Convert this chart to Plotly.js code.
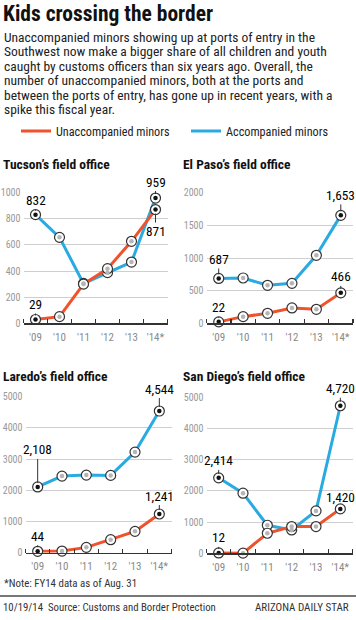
<!DOCTYPE html>
<html>
<head>
<meta charset="utf-8">
<script src="https://cdn.plot.ly/plotly-3.0.1.min.js"></script>
<style>
html,body{margin:0;padding:0;background:#fff;}
#chart{width:356px;height:620px;}
</style>
</head>
<body>
<div id="chart"></div>
<script>
// ---------------- DATA ----------------
const years = [2009, 2010, 2011, 2012, 2013, 2014];
const yearLabels = ["'09", "'10", "'11", "'12", "'13", "'14*"];
const seriesNames = ["Unaccompanied minors", "Accompanied minors"];
const officeNames = ["Tucson’s field office", "El Paso’s field office", "Laredo’s field office", "San Diego’s field office"];

const tucsonUnacc   = [29, 51, 300, 418, 628, 871];
const tucsonAcc     = [832, 658, 305, 388, 469, 959];
const elPasoUnacc   = [22, 102, 153, 235, 214, 466];
const elPasoAcc     = [687, 694, 582, 612, 1041, 1653];
const laredoUnacc   = [44, 53, 171, 417, 684, 1241];
const laredoAcc     = [2108, 2457, 2489, 2479, 3226, 4544];
const sanDiegoUnacc = [12, 5, 641, 855, 855, 1420];
const sanDiegoAcc   = [2414, 1923, 897, 748, 1357, 4720];

const headline = "Kids crossing the border";
const bodyLines = [
  "Unaccompanied minors showing up at ports of entry in the",
  "Southwest now make a bigger share of all children and youth",
  "caught by customs officers than six years ago. Overall, the",
  "number of unaccompanied minors, both at the ports and",
  "between the ports of entry, has gone up in recent years, with a",
  "spike this fiscal year."
];
const noteText = "*Note: FY14 data as of Aug. 31";
const sourceText = "10/19/14  Source: Customs and Border Protection";
const creditText = "ARIZONA DAILY STAR";

// ---------------- LAYOUT / STYLE ----------------
const W = 356, H = 620;
const FONT = "'Roboto Condensed', 'DejaVu Sans Condensed', sans-serif";
const RED = "#f0532b", BLUE = "#29abe2";
const px2x = p => p / W;
const px2y = p => 1 - p / H;

const panels = [
  {unacc: tucsonUnacc, acc: tucsonAcc, xPx: [23.5, 167.5], yPx: [323.3, 192.7], yMax: 1000, dtick: 200,
   titlePx: [1, 164], off: {u0: -15, u5: 22, a0: -14, a5: -16}},
  {unacc: elPasoUnacc, acc: elPasoAcc, xPx: [206.5, 353], yPx: [323.3, 192.7], yMax: 2000, dtick: 500,
   titlePx: [181, 164], off: {u0: -14, u5: -16, a0: -19, a5: -20}},
  {unacc: laredoUnacc, acc: laredoAcc, xPx: [25.5, 171.5], yPx: [552.7, 396.8], yMax: 5000, dtick: 1000,
   titlePx: [1, 376], off: {u0: -15, u5: -18, a0: -37, a5: -22}},
  {unacc: sanDiegoUnacc, acc: sanDiegoAcc, xPx: [206.5, 352.5], yPx: [553.3, 397.0], yMax: 5000, dtick: 1000,
   titlePx: [181, 376], off: {u0: -15, u5: -11, a0: -17, a5: -17}}
];

const traces = [];
const layout = {
  width: W, height: H,
  margin: {l: 0, r: 0, t: 0, b: 0},
  paper_bgcolor: "#fff", plot_bgcolor: "rgba(0,0,0,0)",
  font: {family: FONT, color: "#222"},
  showlegend: true,
  legend: {orientation: "h", x: px2x(61.5), xanchor: "left", y: px2y(131), yanchor: "middle",
           font: {size: 12.2, family: FONT, color: "#222"}, entrywidth: 125, bgcolor: "rgba(0,0,0,0)",
           traceorder: "normal"},
  title: {text: "<b>" + headline + "</b>", x: px2x(3), xanchor: "left", y: px2y(13), yanchor: "middle",
          xref: "paper", yref: "paper", font: {size: 21.5, family: FONT, color: "#111"}},
  annotations: [],
  shapes: []
};

// legend-only traces
[[seriesNames[0], RED], [seriesNames[1], BLUE]].forEach(([n, c]) => {
  traces.push({x: [null], y: [null], type: "scatter", mode: "lines", name: n,
               line: {color: c, width: 3}, xaxis: "x", yaxis: "y", showlegend: true, hoverinfo: "skip"});
});

const fmt = v => v.toLocaleString("en-US");

panels.forEach((p, i) => {
  const k = i === 0 ? "" : String(i + 1);
  const xa = "x" + k, ya = "y" + k;
  layout["xaxis" + k] = {
    domain: [px2x(p.xPx[0]), px2x(p.xPx[1])], range: [2008.5, 2014.5], anchor: ya,
    tickmode: "array", tickvals: years, ticktext: yearLabels, ticks: "", ticklabelstandoff: 3,
    showgrid: false, zeroline: false, showline: true, linecolor: "#333", linewidth: 1.3,
    tickfont: {size: 11, color: "#8a8a8a", family: FONT},
    minor: {tickmode: "linear", tick0: 2008.5, dtick: 1, ticks: "inside", ticklen: 4, tickcolor: "#333", tickwidth: 1.2, showgrid: false},
    fixedrange: true
  };
  layout["yaxis" + k] = {
    domain: [px2y(p.yPx[0]), px2y(p.yPx[1])], range: [0, p.yMax], anchor: xa,
    dtick: p.dtick, tick0: 0, tickformat: "d", ticks: "", showline: false, zeroline: false,
    showgrid: true, gridcolor: "#cfcfcf", gridwidth: 1,
    tickfont: {size: 10, color: "#999", family: FONT}, ticklabelstandoff: 2,
    fixedrange: true
  };
  layout.annotations.push({text: "<b>" + officeNames[i] + "</b>", xref: "paper", yref: "paper",
    x: px2x(p.titlePx[0]), y: px2y(p.titlePx[1]), xanchor: "left", yanchor: "middle", showarrow: false,
    font: {size: 13.5, color: "#111", family: FONT}});

  const common = {type: "scatter", xaxis: xa, yaxis: ya, showlegend: false, cliponaxis: false, hoverinfo: "skip"};
  [[p.acc, BLUE], [p.unacc, RED]].forEach(([vals, col]) => {
    traces.push(Object.assign({}, common, {x: years, y: vals, mode: "lines+markers",
      line: {color: col, width: 3},
      marker: {size: 10, color: "#fff", line: {color: "#333", width: 1.2}}}));
  });
  [p.acc, p.unacc].forEach(vals => {
    traces.push(Object.assign({}, common, {x: years, y: vals, mode: "markers",
      marker: {size: 4.5, color: vals.map((v, j) => (j === 0 || j === vals.length - 1) ? "#111" : "#b5b5b5"),
               line: {width: 0}}}));
  });
  const lab = (vals, j, ay) => layout.annotations.push({
    x: years[j], y: vals[j], xref: xa, yref: ya, text: fmt(vals[j]),
    showarrow: true, arrowhead: 0, arrowwidth: 1, arrowcolor: "#333", ax: 0, ay: ay,
    standoff: 4, xanchor: "center", font: {size: 13.3, color: "#000", family: FONT}});
  lab(p.unacc, 0, p.off.u0);
  lab(p.unacc, 5, p.off.u5);
  lab(p.acc, 0, p.off.a0);
  lab(p.acc, 5, p.off.a5);
});

bodyLines.forEach((t, i) => {
  layout.annotations.push({text: t, xref: "paper", yref: "paper", x: px2x(2), y: px2y(37 + i * 14.4),
    xanchor: "left", yanchor: "middle", showarrow: false, font: {size: 13.5, color: "#222", family: FONT}});
});
layout.annotations.push({text: noteText, xref: "paper", yref: "paper", x: px2x(2), y: px2y(583),
  xanchor: "left", yanchor: "middle", showarrow: false, font: {size: 10.9, color: "#333", family: FONT}});
layout.annotations.push({text: sourceText, xref: "paper", yref: "paper", x: px2x(1), y: px2y(607),
  xanchor: "left", yanchor: "middle", showarrow: false, font: {size: 10.8, color: "#333", family: FONT}});
layout.annotations.push({text: creditText, xref: "paper", yref: "paper", x: px2x(351), y: px2y(607),
  xanchor: "right", yanchor: "middle", showarrow: false, font: {size: 11, color: "#333", family: FONT}});
layout.shapes.push({type: "line", xref: "paper", yref: "paper", x0: 0, x1: 1, y0: px2y(596), y1: px2y(596),
  line: {color: "#777", width: 2}});

Plotly.newPlot("chart", traces, layout, {staticPlot: true, displayModeBar: false});
</script>
</body>
</html>
